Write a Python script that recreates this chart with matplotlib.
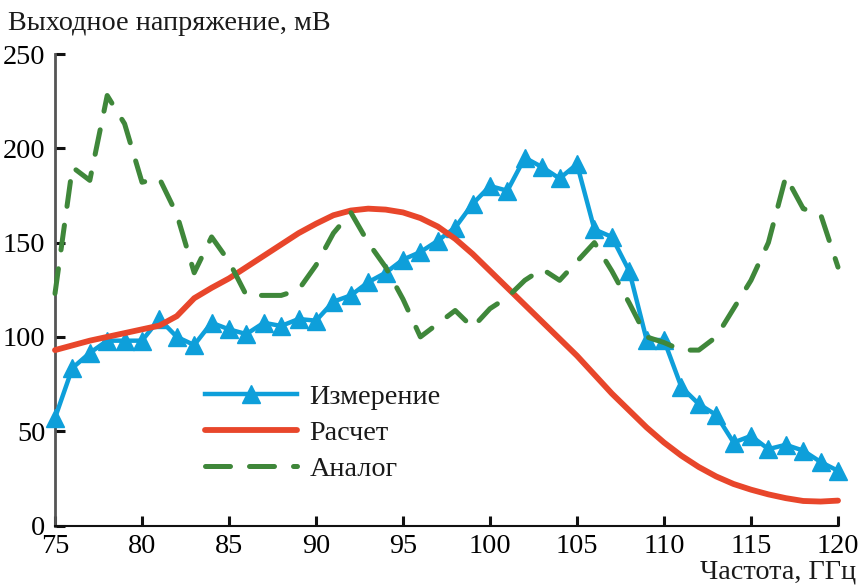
import matplotlib
matplotlib.use("Agg")
import matplotlib.pyplot as plt
import numpy as np

plt.rcParams['font.family'] = ['Liberation Serif', 'DejaVu Serif']

freq = list(range(75, 121))

measured = [57, 83.5, 91.5, 98, 98, 98, 109.5, 100, 95.7, 107.5,
            104, 101.5, 107.5, 105.8, 109.5, 108.6, 118.7, 122, 129, 134,
            141, 145, 151, 158, 170.5, 180, 177.5, 195, 190, 184,
            191.6, 157, 153, 135, 98.5, 98.3, 73.4, 64.4, 58.6, 44,
            47.5, 40.5, 42.8, 39.7, 33.7, 29]

calculated = [93, 95.5, 98, 100, 102, 104, 106, 111, 120.5, 126,
              131, 137, 143, 149, 155, 160, 164.5, 167, 168, 167.5,
              166, 163, 158.5, 152, 144, 135, 126, 117, 108, 99,
              90, 80, 70, 61, 52, 44, 37, 31, 26, 22,
              19, 16.5, 14.5, 13, 12.7, 13.2]

analog = [123, 190, 183, 228, 213, 182, 184, 165, 134, 153,
          140, 122, 122, 122, 125, 138, 155, 166, 150, 137,
          120, 100, 107, 114, 105, 115, 121, 130, 136, 130,
          140, 150, 135, 118, 100, 97, 93, 93, 100, 115,
          130, 150, 185, 168, 165, 137]

labels = ["Измерение", "Расчет", "Аналог"]
xticks = [75, 80, 85, 90, 95, 100, 105, 110, 115, 120]
yticks = [0, 50, 100, 150, 200, 250]

c_blue = "#0e9fda"
c_red = "#e8462b"
c_green = "#3f873a"

FS = 20.3

fig = plt.figure(figsize=(8.59, 5.85), dpi=100)
ax = fig.add_axes([55/859, 1-525.5/585, (838-55)/859, (525.5-54)/585])

ax.plot(freq, measured, color=c_blue, lw=3.2, marker='^', ms=13,
        label=labels[0], clip_on=False, zorder=3)
ax.plot(freq, calculated, color=c_red, lw=4.2, label=labels[1],
        clip_on=False, zorder=4, solid_capstyle='round')
ax.plot(freq, analog, color=c_green, lw=3.6, ls=(0, (5.0, 3.8)),
        dash_capstyle='round', label=labels[2], clip_on=False, zorder=5)

ax.set_xlim(75, 120)
ax.set_ylim(0, 250)
ax.set_xticks(xticks)
ax.set_yticks(yticks)
ax.tick_params(direction='in', length=7, width=2.2, labelsize=FS,
               color='#111111')
ax.tick_params(axis='y', pad=7)
ax.tick_params(axis='x', pad=6)
for s in ['top', 'right']:
    ax.spines[s].set_visible(False)
ax.spines['left'].set_color('#555555')
ax.spines['left'].set_linewidth(2.0)
ax.spines['bottom'].set_color('#111111')
ax.spines['bottom'].set_linewidth(1.5)

fig.text(8/859, 1-24/585, "Выходное напряжение, мВ", fontsize=FS,
         ha='left', va='center', color='#1a1a1a')
fig.text(856/859, 1-572/585, "Частота, ГГц", fontsize=FS,
         ha='right', va='center', color='#1a1a1a')

leg = ax.legend(loc='upper left', bbox_to_anchor=(205/859, 1-384/585),
                bbox_transform=fig.transFigure, frameon=False,
                fontsize=FS, handlelength=3.25, handletextpad=0.45,
                labelspacing=0.36, borderpad=0, borderaxespad=0)
for t in leg.get_texts():
    t.set_color('#1a1a1a')

fig.savefig("out.png", dpi=100)
